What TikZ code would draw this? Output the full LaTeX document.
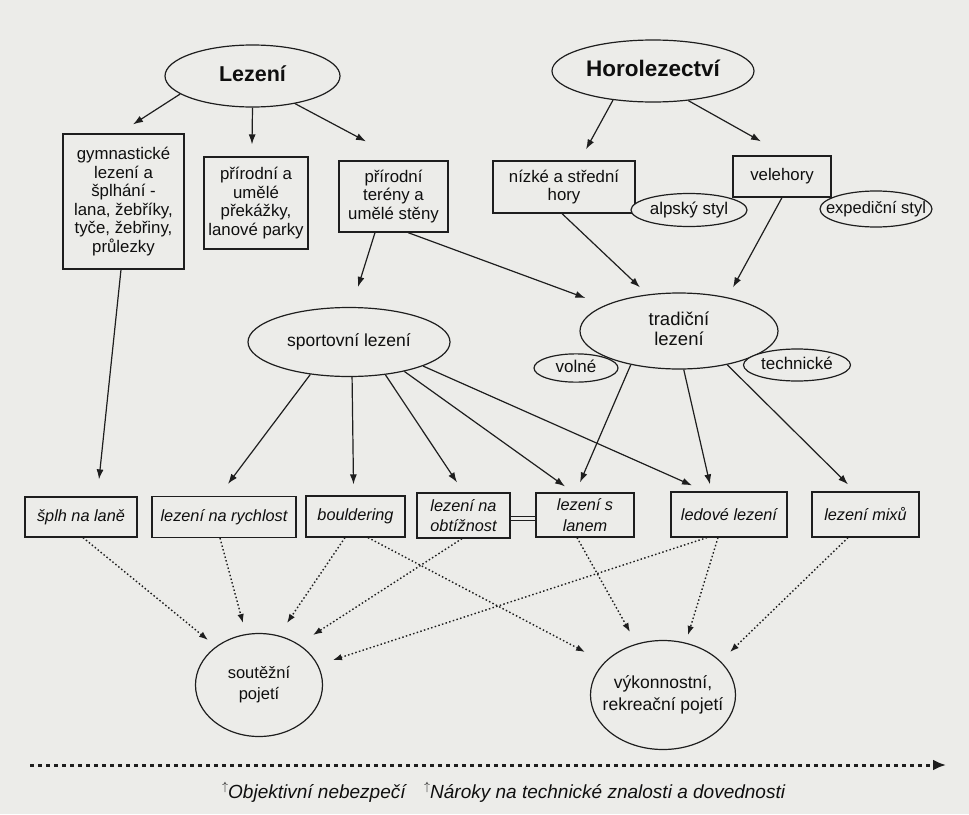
\documentclass[tikz,border=0pt]{standalone}
\usepackage{fontspec}
\setmainfont{Liberation Sans}
\usetikzlibrary{shapes.geometric,arrows.meta,calc}
\definecolor{bg}{RGB}{236,236,233}
\definecolor{ln}{RGB}{30,30,30}
\definecolor{tx}{RGB}{15,15,15}
\newcommand\ctrtext[1]{\makebox[0pt]{\begin{tabular}{@{}c@{}}#1\end{tabular}}}
\begin{document}
\begin{tikzpicture}[x=1pt,y=-1pt,
  every node/.style={text=tx},
  shapebase/.style={draw=ln, line width=1.2pt, fill=bg, inner sep=0pt},
  rbox/.style={shapebase, rectangle, align=center, font=\fontsize{16.8}{18.5}\selectfont},
  ibox/.style={shapebase, rectangle, align=center, font=\fontsize{16.3}{20.5}\selectfont\itshape},
  oval/.style={shapebase, ellipse, font=\fontsize{17}{20}\selectfont},
  arr/.style={draw=ln, line width=1.2pt, -{Latex[length=10pt,width=7pt]}},
  darr/.style={draw=ln, line width=1.4pt, dash pattern=on 1.5pt off 2.3pt, -{Latex[length=9pt,width=6.5pt]}},
]
\fill[bg] (0,0) rectangle (969,814);
\useasboundingbox (0,0) rectangle (969,814);

% top ellipses
\node[oval, minimum width=175pt, minimum height=62pt, font=\fontsize{21.5}{25}\selectfont\bfseries] (lez) at (252.5,76) {\ctrtext{Lezení}};
\node[oval, minimum width=202pt, minimum height=62pt, font=\fontsize{22.5}{26}\selectfont\bfseries] (horo) at (653,71) {\ctrtext{Horolezectví}};

% second row boxes
\node[rbox, minimum width=121pt, minimum height=135pt] (gym) at (123.5,201.5) {gymnastické\\lezení a\\šplhání -\\lana, žebříky,\\tyče, žebřiny,\\průlezky};
\node[rbox, minimum width=104pt, minimum height=92pt] (pA) at (256,203) {přírodní a\\umělé\\překážky,\\lanové parky};
\node[rbox, minimum width=109pt, minimum height=71pt] (pT) at (393.5,196.5) {přírodní\\terény a\\umělé stěny};
\node[rbox, minimum width=142pt, minimum height=52pt] (niz) at (564,187) {nízké a střední\\hory};
\node[rbox, minimum width=98pt, minimum height=41pt] (vel) at (782,176.5) {velehory};
\node[oval, minimum width=116pt, minimum height=33pt] (alp) at (689,210) {\ctrtext{alpský styl}};
\node[oval, minimum width=112pt, minimum height=36pt, font=\fontsize{16.5}{20}\selectfont] (exp) at (876,209) {\ctrtext{expediční styl}};

% middle ellipses
\node[oval, minimum width=202pt, minimum height=69pt, font=\fontsize{17.5}{20}\selectfont] (spo) at (349,342) {\ctrtext{sportovní lezení}};
\node[oval, minimum width=198pt, minimum height=76pt, font=\fontsize{18.5}{20}\selectfont] (tra) at (679,331) {\ctrtext{tradiční\\lezení}};
\node[oval, minimum width=84pt, minimum height=28pt] (vol) at (576,368) {\ctrtext{volné}};
\node[oval, minimum width=107pt, minimum height=32pt] (tec) at (797,365) {\ctrtext{technické}};

% bottom row boxes
\node[ibox, minimum width=112pt, minimum height=40pt] (spl) at (81,517) {šplh na laně};
\node[ibox, minimum width=144pt, minimum height=41pt] (ryc) at (224,517) {lezení na rychlost};
\node[ibox, minimum width=99pt, minimum height=41pt] (bou) at (355.5,516.5) {bouldering};
\node[ibox, minimum width=93pt, minimum height=45pt] (obt) at (463.5,515.5) {lezení na\\obtížnost};
\node[ibox, minimum width=98pt, minimum height=44pt] (lan) at (585,515) {lezení s\\lanem};
\node[ibox, minimum width=116pt, minimum height=45pt] (led) at (729,514.5) {ledové lezení};
\node[ibox, minimum width=107pt, minimum height=45pt] (mix) at (865.5,514.5) {lezení mixů};

% bottom ellipses
\node[oval, minimum width=127pt, minimum height=103pt, font=\fontsize{16.5}{20.5}\selectfont] (sou) at (259,685) {\ctrtext{soutěžní\\pojetí}};
\node[oval, minimum width=145pt, minimum height=109pt, font=\fontsize{17.5}{21.5}\selectfont] (vyk) at (663,695) {\ctrtext{výkonnostní,\\rekreační pojetí}};

% solid arrows
\draw[arr] (lez.194) -- ($(gym.north)+(9.5,-9)$);
\draw[arr] (lez.south) -- ($(pA.north)+(-4,-12)$);
\draw[arr] (lez.-33) -- ($(pT.north)+(-27.5,-19)$);
\draw[arr] (horo.216) -- ($(niz.north)+(22,-11)$);
\draw[arr] (horo.-40) -- ($(vel.north)+(-21,-14)$);
\draw[arr] ($(gym.south)+(-2.5,0)$) -- ($(spl.north)+(18,-17)$);
\draw[arr] ($(pT.south)+(-18.5,0)$) -- ($(spo.north)+(9,-20)$);
\draw[arr] ($(pT.south)+(14.5,0)$) -- ($(tra.west)+(6,-33)$);
\draw[arr] ($(niz.south)+(-2,0)$) -- ($(tra.north)+(-39,-5)$);
\draw[arr] (vel.south) -- ($(tra.north)+(54,-5)$);
\draw[arr] (spo.220) -- ($(ryc.north)+(4,-12)$);
\draw[arr] (spo.-85) -- ($(bou.north)+(-2,-11)$);
\draw[arr] (spo.-42) -- ($(obt.north)+(-6.5,-10)$);
\draw[arr] (spo.-28) -- ($(lan.north)+(-20,-6)$);
\draw[arr] (spo.-18) -- ($(led.north)+(-37,-6)$);
\draw[arr] (tra.215) -- ($(lan.north)+(-5,-10)$);
\draw[arr] (tra.-83) -- ($(led.north)+(-19,-7)$);
\draw[arr] (tra.-35) -- ($(mix.north)+(-17.5,-7)$);

% double connector
\draw[draw=ln, line width=0.9pt, double=bg, double distance=2.4pt] ($(obt.east)+(0,3)$) -- ($(lan.west)+(0,3.5)$);

% dotted arrows
\draw[darr] ($(spl.south)+(2,0)$) -- ($(sou.center)+(-51,-45)$);
\draw[darr] ($(ryc.south)+(-4,0)$) -- ($(sou.center)+(-16,-62)$);
\draw[darr] ($(bou.south)+(-10.5,0)$) -- ($(sou.center)+(28,-62)$);
\draw[darr] ($(obt.south)+(-1.5,0)$) -- ($(sou.center)+(54,-50)$);
\draw[darr] ($(led.south)+(-22,0)$) -- ($(sou.center)+(74,-25)$);
\draw[darr] ($(bou.south)+(12.5,0)$) -- ($(vyk.center)+(-78,-43)$);
\draw[darr] ($(lan.south)+(-8,0)$) -- ($(vyk.center)+(-33,-63)$);
\draw[darr] ($(led.south)+(-11,0)$) -- ($(vyk.center)+(25,-60)$);
\draw[darr] ($(mix.south)+(-17.5,0)$) -- ($(vyk.center)+(67,-43)$);

% bottom axis
\coordinate (axL) at (30,765);
\coordinate (axR) at (946,765);
\draw[draw=ln, line width=3pt, dash pattern=on 4pt off 4pt, -{Latex[length=13pt,width=11pt]}] (axL) -- (axR);
\node[anchor=base west, inner sep=0pt, font=\fontsize{19}{22}\selectfont\itshape] (t1) at (222,798) {\raisebox{8pt}{\fontsize{12}{12}\selectfont$\uparrow$}Objektivní nebezpečí};
\node[anchor=base west, inner sep=0pt, font=\fontsize{19}{22}\selectfont\itshape] (t2) at (424,798) {\raisebox{8pt}{\fontsize{12}{12}\selectfont$\uparrow$}Nároky na technické znalosti a dovednosti};
\end{tikzpicture}
\end{document}
